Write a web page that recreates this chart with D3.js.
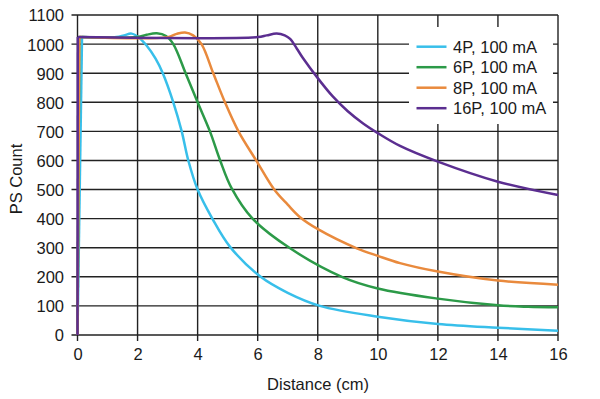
<!DOCTYPE html>
<html>
<head>
<meta charset="utf-8">
<script src="https://cdn.jsdelivr.net/npm/d3@7"></script>
<style>
  html, body { margin: 0; padding: 0; background: #fff; }
  svg { display: block; }
  text { font-family: "Liberation Sans", Arial, Helvetica, sans-serif; fill: #1a1a1a; }
</style>
</head>
<body>
<svg id="chart" width="600" height="399"></svg>
<script>
const seriesNames = ["4P, 100 mA", "6P, 100 mA", "8P, 100 mA", "16P, 100 mA"];
const seriesColors = ["#38bfea", "#2c9a48", "#e98a3d", "#5b2e90"];

const p4 = [[0,0],[0.15,1024],[1.3,1024],[1.55,1030],[1.8,1036],[2.05,1022],[2.3,995],[2.6,950],[2.84,900],[3.19,800],[3.47,700],[3.69,600],[4.0,500],[4.49,400],[5.08,303],[6.1,200],[7.0,145],[8.07,100],[10,63],[12,38],[14,25],[16,15]];
const p6 = [[0,0],[0.06,1024],[2.0,1024],[2.3,1032],[2.64,1037],[2.95,1028],[3.19,1000],[3.6,900],[4.0,800],[4.41,700],[4.75,600],[5.13,505],[5.83,400],[7.08,298],[8.8,200],[10,160],[12,125],[14,102],[15,97],[16,95]];
const p8 = [[0,0],[0.06,1024],[3.0,1024],[3.3,1035],[3.58,1040],[3.85,1030],[4.13,1000],[4.52,900],[4.91,800],[5.36,700],[5.95,600],[6.55,500],[7.0,448],[7.41,405],[8.02,363],[9.3,298],[10,272],[10.74,247],[12,218],[14,187],[16,173]];
const p16 = [[0,0],[0.01,1024],[6.0,1024],[6.3,1030],[6.63,1036],[6.9,1030],[7.08,1018],[7.3,985],[7.5,953],[8.0,883],[8.5,820],[9.0,769],[9.5,728],[10,694],[10.74,650],[12,596],[14,527],[16,481]];
const seriesData = [p4, p6, p8, p16];

const xTicks = [0,2,4,6,8,10,12,14,16];
const yTicks = [0,100,200,300,400,500,600,700,800,900,1000,1100];

const FS = "16.5px";
const svg = d3.select("#chart");
const x = d3.scaleLinear().domain([0,16]).range([77.5,558]);
const y = d3.scaleLinear().domain([0,1100]).range([335,15]);
const gridColor = "#222";

// gridlines
svg.append("g").selectAll("line").data(xTicks).join("line")
  .attr("x1", d => x(d)).attr("x2", d => x(d))
  .attr("y1", y(1100)).attr("y2", y(0) + 6)
  .attr("stroke", gridColor).attr("stroke-width", 1.4);
svg.append("g").selectAll("line").data(yTicks).join("line")
  .attr("x1", x(0) - 6).attr("x2", x(16))
  .attr("y1", d => y(d)).attr("y2", d => y(d))
  .attr("stroke", gridColor).attr("stroke-width", 1.4);

// legend background (covers gridlines)
svg.append("rect").attr("x", 409).attr("y", 27).attr("width", 144).attr("height", 97).attr("fill", "#fff");

// axes labels
const xAxis = d3.axisBottom(x).tickValues(xTicks).tickFormat(d3.format("d")).tickSize(0).tickPadding(0);
const gx = svg.append("g").attr("transform", "translate(0,360)").call(xAxis);
gx.select(".domain").remove();
gx.selectAll("text").attr("dy", 0).attr("y", 0)
  .style("font-size", FS).style("font-family", "Liberation Sans, Arial, sans-serif").attr("fill", "#1a1a1a");

const yAxis = d3.axisLeft(y).tickValues(yTicks).tickFormat(d3.format("d")).tickSize(0).tickPadding(0);
const gy = svg.append("g").attr("transform", "translate(64,0)").call(yAxis);
gy.select(".domain").remove();
gy.selectAll("text").attr("x", 0).attr("dy", "0.36em")
  .style("font-size", FS).style("font-family", "Liberation Sans, Arial, sans-serif").attr("fill", "#1a1a1a");

// lines: vertical rise drawn straight, the rest smoothed
const rise = d3.line().x(d => x(d[0])).y(d => y(d[1]));
const smooth = d3.line().x(d => x(d[0])).y(d => y(d[1])).curve(d3.curveCatmullRom.alpha(0.5));
seriesData.forEach((s, i) => {
  const g = svg.append("g");
  g.append("path").datum(s.slice(0, 2)).attr("d", rise)
    .attr("fill", "none").attr("stroke", seriesColors[i]).attr("stroke-width", 2.5);
  g.append("path").datum(s.slice(1)).attr("d", smooth)
    .attr("fill", "none").attr("stroke", seriesColors[i]).attr("stroke-width", 2.5)
    .attr("stroke-linejoin", "round");
});

// legend
const lg = svg.append("g");
seriesNames.forEach((name, i) => {
  const ly = 46.7 + i * 20.5;
  lg.append("line").attr("x1", 416.5).attr("x2", 446.5).attr("y1", ly).attr("y2", ly)
    .attr("stroke", seriesColors[i]).attr("stroke-width", 2.5);
  lg.append("text").attr("x", 453).attr("y", ly).attr("dy", "0.36em")
    .style("font-size", FS).text(name);
});

// axis titles
svg.append("text").attr("x", 318).attr("y", 389.5).attr("text-anchor", "middle")
  .style("font-size", FS).text("Distance (cm)");
svg.append("text").attr("transform", "translate(21.5,179) rotate(-90)").attr("text-anchor", "middle")
  .style("font-size", FS).text("PS Count");
</script>
</body>
</html>
